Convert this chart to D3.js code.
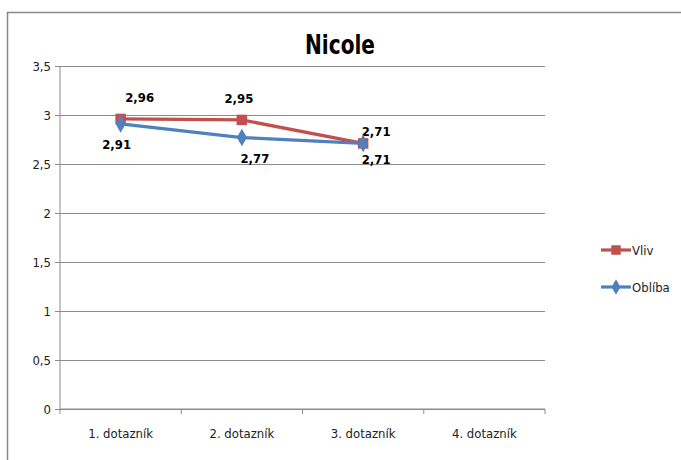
<!DOCTYPE html>
<html>
<head>
<meta charset="utf-8">
<script src="https://cdn.jsdelivr.net/npm/d3@7"></script>
<style>
  body { margin: 0; background: #fff; }
  text { font-family: "DejaVu Sans Condensed", "Liberation Sans Narrow", "Open Sans", sans-serif; }
</style>
</head>
<body>
<div id="chart"></div>
<script>
// chart data
var categories = ["1. dotazník", "2. dotazník", "3. dotazník", "4. dotazník"];
var vliv = [2.96, 2.95, 2.71, null];
var obliba = [2.91, 2.77, 2.71, null];
var yTicks = [0, 0.5, 1, 1.5, 2, 2.5, 3, 3.5];

// label offsets (px) relative to each point
var vlivLabelOffset = [[19, -22], [-3, -22], [13, -12]];
var oblibaLabelOffset = [[-4, 20], [13, 20], [13, 16]];

var svgWidth = 681;
var svgHeight = 460;

var margin = { top: 66, left: 60 };
var width = 485;
var height = 343;

var svg = d3.select("#chart")
    .append("svg")
    .attr("width", svgWidth)
    .attr("height", svgHeight);

// outer frame (only top and left visible)
svg.append("path")
    .attr("d", "M7.5,470 V12.5 H690")
    .attr("fill", "none")
    .attr("stroke", "#888")
    .attr("stroke-width", 1.5);

svg.append("text")
    .attr("transform", "translate(340,54) scale(0.86,1)")
    .attr("text-anchor", "middle")
    .attr("font-size", "26px")
    .attr("font-weight", "bold")
    .text("Nicole");

var chartGroup = svg.append("g")
    .attr("transform", `translate(${margin.left}, ${margin.top})`);

var xScale = d3.scaleBand()
    .domain(categories)
    .range([0, width]);

var yScale = d3.scaleLinear()
    .domain([0, 3.5])
    .range([height, 0]);

var fmt = d => String(d).replace(".", ",");

// gridlines + left axis
var leftAxis = d3.axisLeft(yScale)
    .tickValues(yTicks)
    .tickFormat(fmt)
    .tickSize(-width - 5)
    .tickPadding(12);

var yAxisG = chartGroup.append("g")
    .attr("transform", "translate(-5,0)")
    .call(leftAxis);
yAxisG.select(".domain").remove();
yAxisG.selectAll("line").attr("stroke", "#8c8c8c");
yAxisG.selectAll("text")
    .attr("font-size", "13px")
    .attr("fill", "#222")
    .attr("x", -4);

chartGroup.append("line")
    .attr("x1", 0).attr("x2", 0)
    .attr("y1", 0).attr("y2", height)
    .attr("stroke", "#8c8c8c");

// bottom axis with ticks at category boundaries
chartGroup.append("line")
    .attr("x1", 0).attr("x2", width)
    .attr("y1", height).attr("y2", height)
    .attr("stroke", "#8c8c8c");

chartGroup.selectAll(".bt")
    .data(categories.concat([null]))
    .enter()
    .append("line")
    .attr("x1", (d, i) => i * xScale.bandwidth())
    .attr("x2", (d, i) => i * xScale.bandwidth())
    .attr("y1", height)
    .attr("y2", height + 5)
    .attr("stroke", "#8c8c8c");

chartGroup.selectAll(".xl")
    .data(categories)
    .enter()
    .append("text")
    .attr("x", d => xScale(d) + xScale.bandwidth() / 2)
    .attr("y", height + 29)
    .attr("text-anchor", "middle")
    .attr("font-size", "13px")
    .attr("fill", "#222")
    .text(d => d);

var cx = (d, i) => xScale(categories[i]) + xScale.bandwidth() / 2;

function drawSeries(values, color, symbolType, size, offsets) {
    var pts = values.map((v, i) => ({ v: v, i: i })).filter(d => d.v !== null);

    var line = d3.line()
        .x(d => cx(d, d.i))
        .y(d => yScale(d.v));

    chartGroup.append("path")
        .datum(pts)
        .attr("d", line)
        .attr("fill", "none")
        .attr("stroke", color)
        .attr("stroke-width", 3.2);

    chartGroup.selectAll(null)
        .data(pts)
        .enter()
        .append("path")
        .attr("d", d3.symbol().type(symbolType).size(size))
        .attr("transform", d => `translate(${cx(d, d.i)},${yScale(d.v)})`)
        .attr("fill", color);

    chartGroup.selectAll(null)
        .data(pts)
        .enter()
        .append("text")
        .attr("x", d => cx(d, d.i) + offsets[d.i][0])
        .attr("y", d => yScale(d.v) + offsets[d.i][1] + 5)
        .attr("text-anchor", "middle")
        .attr("font-size", "13px")
        .attr("font-weight", "bold")
        .text(d => fmt(d.v));
}

drawSeries(vliv, "#c0504d", d3.symbolSquare, 110, vlivLabelOffset);
drawSeries(obliba, "#4f81bd", d3.symbolDiamond, 90, oblibaLabelOffset);

// legend
var legend = [
    { name: "Vliv", color: "#c0504d", sym: d3.symbolSquare, size: 90 },
    { name: "Oblíba", color: "#4f81bd", sym: d3.symbolDiamond, size: 70 }
];

var lg = svg.selectAll(".lg")
    .data(legend)
    .enter()
    .append("g")
    .attr("transform", (d, i) => `translate(601, ${250 + i * 37})`);

lg.append("line")
    .attr("x1", 0).attr("x2", 30)
    .attr("stroke", d => d.color)
    .attr("stroke-width", 3.2);

lg.append("path")
    .attr("d", d => d3.symbol().type(d.sym).size(d.size)())
    .attr("transform", "translate(15,0)")
    .attr("fill", d => d.color);

lg.append("text")
    .attr("x", 31)
    .attr("y", 5)
    .attr("font-size", "13px")
    .attr("fill", "#222")
    .text(d => d.name);
</script>
</body>
</html>
